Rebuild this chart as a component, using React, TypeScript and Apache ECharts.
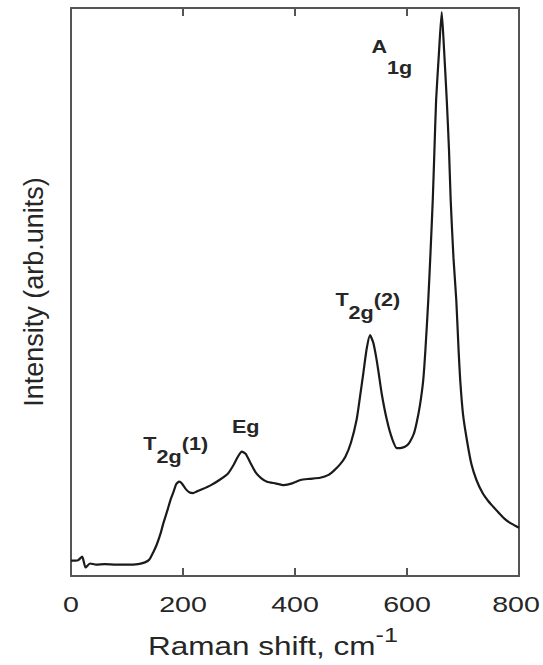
import React, { useEffect, useRef } from "react";
import * as echarts from "echarts";

// Raman shift (cm^-1) and intensity (arb. units)
const ramanShift = [
  0, 8, 13, 20, 26, 34, 45, 60, 80, 100, 120, 132, 140, 147, 153, 160, 165, 172, 178, 183,
  188, 193, 198, 205, 212, 218, 225, 235, 250, 265, 280, 290, 298, 305, 312, 320, 330, 340,
  350, 365, 380, 395, 410, 425, 445, 460, 470, 480, 490, 500, 510, 516, 522, 528, 534, 540,
  545, 549, 555, 564, 573, 582, 592, 600, 605, 612, 617, 623, 629, 633, 638, 642, 646, 649,
  652, 657, 662, 666, 671, 675, 678, 683, 688, 692, 695, 700, 707, 715, 724, 735, 745, 754,
  765, 775, 785, 796, 800,
];
const intensity = [
  2.7, 2.7, 2.8, 3.4, 1.5, 2.2, 2.0, 2.1, 2.0, 2.0, 2.1, 2.4, 2.9, 4.2, 5.5, 7.5, 9.3, 11.5, 13.5, 14.8,
  16.2, 16.6, 16.3, 15.3, 14.7, 14.6, 14.9, 15.3, 16.0, 16.9, 18.0, 19.5, 21.0, 21.9, 21.5, 20.0, 18.2, 17.2,
  16.6, 16.3, 16.0, 16.3, 16.9, 17.1, 17.3, 17.8, 18.6, 19.6, 21.0, 23.5, 27.5, 31.5, 35.7, 40.0, 42.4, 41.0,
  38.5, 36.0, 32.0, 27.5, 24.3, 22.5, 22.6, 23.0, 23.6, 25.0, 26.9, 30.0, 34.5, 40.0, 48.6, 57.0, 66.2, 75.0,
  83.8, 92.0, 99.3, 93.0, 83.8, 75.0, 66.2, 56.0, 48.6, 40.0, 34.5, 28.5, 23.9, 19.7, 16.9, 14.6, 13.2, 12.2,
  11.0, 10.0, 9.3, 8.7, 8.5,
];

const xTicks = [0, 200, 400, 600, 800];

// Peak annotations (rich text: m = main, s/d = subscript) and their anchor in data units
const peakLabels = ["{m|T}{s|2g}{m|(1)}", "{m|Eg}", "{m|T}{s|2g}{m|(2)}", "{m|A}{d|1g}"];
const peakLabelShift = [187, 312, 530, 573];
const peakLabelIntensity = [22.2, 26.1, 47.5, 91.3];

const xAxisTitle = "Raman shift, cm";
const xAxisTitleSup = "-1";
const yAxisTitle = "Intensity (arb.units)";

const AXIS_COLOR = "#555555";
const TEXT_COLOR = "#262626";
const FONT = "'Liberation Sans', Arial, sans-serif";

export default function App() {
  const ref = useRef<HTMLDivElement>(null);

  useEffect(() => {
    if (!ref.current) return;
    const chart = echarts.init(ref.current, undefined, { renderer: "svg" });

    const axisBase = {
      type: "value" as const,
      min: 0,
      max: 800,
      interval: 200,
      axisLine: { show: true, onZero: false, lineStyle: { color: AXIS_COLOR, width: 2 } },
      axisTick: { show: true, inside: true, length: 8, lineStyle: { color: AXIS_COLOR, width: 2 } },
      axisLabel: { show: false },
      splitLine: { show: false },
    };
    const yBase = {
      type: "value" as const,
      min: 0,
      max: 100,
      axisLine: { show: true, onZero: false, lineStyle: { color: AXIS_COLOR, width: 2 } },
      axisTick: { show: false },
      axisLabel: { show: false },
      splitLine: { show: false },
    };

    chart.setOption({
      animation: false,
      grid: { left: 71, right: 24, top: 8, bottom: 89 },
      xAxis: [
        { ...axisBase, position: "bottom" },
        { ...axisBase, position: "top" },
      ],
      yAxis: [
        { ...yBase, position: "left" },
        { ...yBase, position: "right" },
      ],
      series: [
        {
          type: "line",
          xAxisIndex: 0,
          yAxisIndex: 0,
          data: ramanShift.map((x, i) => [x, intensity[i]]),
          showSymbol: false,
          smooth: 0.2,
          lineStyle: { color: "#1a1a1a", width: 2.2 },
        },
      ],
    });

    const toPx = (x: number, y: number) =>
      chart.convertToPixel({ seriesIndex: 0 }, [x, y]) as number[];
    const axisY = toPx(0, 0)[1];
    const rightEdge = toPx(800, 0)[0];

    const graphic: any[] = [];
    xTicks.forEach((t) => {
      const p = toPx(t, 0);
      // keep the last label inside the canvas, as in the reference
      const x = Math.min(p[0], rightEdge - 3);
      graphic.push({
        type: "text",
        x,
        y: axisY + 28,
        scaleX: 1.27,
        style: {
          text: String(t),
          fontFamily: FONT,
          fontSize: 22.5,
          fill: TEXT_COLOR,
          textAlign: "center",
          textVerticalAlign: "middle",
        },
      });
    });

    peakLabels.forEach((lab, i) => {
      const p = toPx(peakLabelShift[i], peakLabelIntensity[i]);
      graphic.push({
        type: "text",
        x: p[0],
        y: p[1],
        scaleX: 1.2,
        style: {
          text: lab,
          fill: TEXT_COLOR,
          textAlign: "center",
          textVerticalAlign: "middle",
          rich: {
            m: { fontFamily: FONT, fontSize: 18, fontWeight: "bold", fill: TEXT_COLOR, verticalAlign: "top", lineHeight: 20 },
            s: { fontFamily: FONT, fontSize: 18, fontWeight: "bold", fill: TEXT_COLOR, verticalAlign: "bottom", lineHeight: 31 },
            d: { fontFamily: FONT, fontSize: 18, fontWeight: "bold", fill: TEXT_COLOR, verticalAlign: "bottom", lineHeight: 39 },
          },
        },
      });
    });

    const mid = (toPx(0, 0)[0] + toPx(800, 0)[0]) / 2;
    graphic.push({
      type: "text",
      x: mid - 22,
      y: axisY + 66,
      scaleX: 1.26,
      style: {
        text: `{a|${xAxisTitle}}{b|${xAxisTitleSup}}`,
        fill: TEXT_COLOR,
        textAlign: "center",
        textVerticalAlign: "middle",
        rich: {
          a: { fontFamily: FONT, fontSize: 25, fill: TEXT_COLOR, verticalAlign: "bottom", lineHeight: 34 },
          b: { fontFamily: FONT, fontSize: 20, fill: TEXT_COLOR, verticalAlign: "top", lineHeight: 20 },
        },
      },
    });

    const yMid = (toPx(0, 0)[1] + toPx(0, 100)[1]) / 2;
    graphic.push({
      type: "text",
      x: 34,
      y: yMid,
      rotation: Math.PI / 2,
      style: {
        text: yAxisTitle,
        fontFamily: FONT,
        fontSize: 27,
        fill: TEXT_COLOR,
        textAlign: "center",
        textVerticalAlign: "middle",
      },
    });

    chart.setOption({ graphic });

    return () => chart.dispose();
  }, []);

  return (
    <div
      ref={ref}
      style={{ position: "absolute", left: 0, top: 0, width: 543, height: 665, background: "#fff" }}
    />
  );
}
